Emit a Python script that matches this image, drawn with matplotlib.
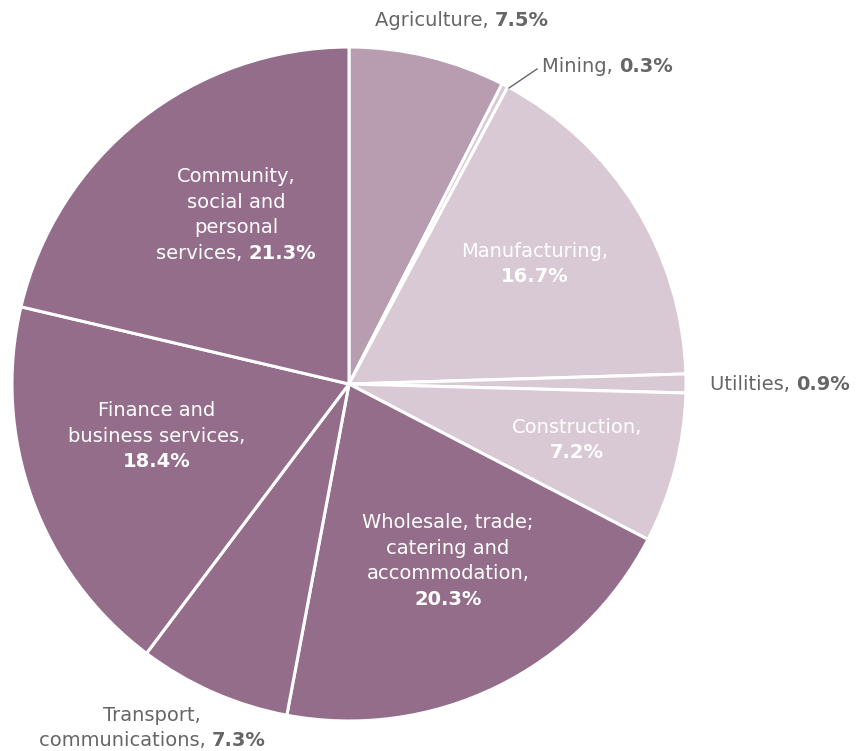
import matplotlib.pyplot as plt

sectors = ['Agriculture', 'Mining', 'Manufacturing,\n', 'Utilities', 'Construction,\n',
           'Wholesale, trade;\ncatering and\naccommodation,\n', 'Transport,\ncommunications',
           'Finance and\nbusiness services,\n', 'Community,\nsocial and\npersonal\nservices']
shares = [7.5, 0.3, 16.7, 0.9, 7.2, 20.3, 7.3, 18.4, 21.3]
colors = ['#b89cb0', '#d8c9d4', '#d8c9d4', '#d8c9d4', '#d8c9d4',
          '#936d8a', '#936d8a', '#936d8a', '#936d8a']

W, H = 860, 751
fig = plt.figure(figsize=(W / 100, H / 100), dpi=100)
cx, cy, r = 349, 384, 337
ax = fig.add_axes([(cx - r) / W, (H - cy - r) / H, 2 * r / W, 2 * r / H])
ax.pie(shares, colors=colors, startangle=90, counterclock=False,
       wedgeprops=dict(edgecolor='white', linewidth=2.2))
ax.set_xlim(-1, 1)
ax.set_ylim(-1, 1)
ax.set_aspect('auto')
ax.axis('off')

renderer = fig.canvas.get_renderer()
FS = 14
GREY = '#666666'


def label(name, value, x, y, color, ha='center', lh=25.5):
    # a trailing newline puts the bold value on its own line,
    # otherwise it follows the last line after a comma
    lines = name.split('\n')
    top = y - (len(lines) - 1) * lh / 2
    for i, ln in enumerate(lines):
        yy = H - (top + i * lh)
        segs = [(ln, 'normal')]
        if i == len(lines) - 1:
            if ln:
                segs = [(ln + ', ', 'normal'), (f'{value}%', 'bold')]
            else:
                segs = [(f'{value}%', 'bold')]
        arts = [fig.text(0, 0, s, fontsize=FS, fontweight=w, color=color,
                         family='DejaVu Sans', va='center', ha='left',
                         transform=None) for s, w in segs]
        widths = [a.get_window_extent(renderer).width for a in arts]
        total = sum(widths)
        x0 = x - total / 2 if ha == 'center' else x
        for a, wd in zip(arts, widths):
            a.set_position((x0, yy))
            x0 += wd


label(sectors[0], shares[0], 462, 20, GREY)
label(sectors[1], shares[1], 542, 66, GREY, ha='left')
label(sectors[2], shares[2], 535, 264, 'white')
label(sectors[3], shares[3], 710, 384, GREY, ha='left')
label(sectors[4], shares[4], 577, 440, 'white')
label(sectors[5], shares[5], 448, 561, 'white')
label(sectors[6], shares[6], 152, 728, GREY)
label(sectors[7], shares[7], 157, 436, 'white')
label(sectors[8], shares[8], 236, 215, 'white')

# leader line for the thin mining slice
fig.add_artist(plt.Line2D([509, 537], [H - 88, H - 69], color=GREY,
                          linewidth=1, transform=None))

fig.savefig('out.png', dpi=100)
